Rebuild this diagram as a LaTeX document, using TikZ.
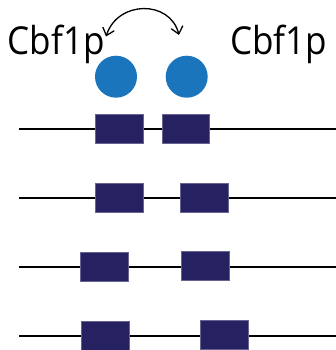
\documentclass[tikz,border=0pt]{standalone}
\usepackage{fontspec}
\setmainfont{Open Sans}
\usetikzlibrary{arrows.meta}
\definecolor{dotblue}{HTML}{1A75BC}
\definecolor{boxnavy}{HTML}{262262}
\begin{document}
\begin{tikzpicture}[x=1pt,y=-1pt,
  site/.style={fill=boxnavy,draw=boxnavy!70!white,line width=0.4pt,minimum width=48pt,minimum height=29pt,inner sep=0pt},
  dna/.style={line width=2pt,black},
  prot/.style={circle,fill=dotblue,minimum size=42pt,inner sep=0pt},
  lbl/.style={font=\fontsize{38.5}{40}\selectfont,inner sep=0pt,anchor=base west,xscale=0.91}]
\useasboundingbox (0,0) rectangle (335,350);
% DNA lines
\foreach \y/\n in {129/1,197.5/2,266.5/3,335.5/4}{
  \coordinate (l\n) at (19,\y);
  \coordinate (r\n) at (336,\y);
  \draw[dna] (l\n) -- (r\n);
}
% boxes
\node[site] (a1) at (119,128.7) {};
\node[site,minimum width=47pt,minimum height=28.5pt] (b1) at (185.5,128.5) {};
\node[site] (a2) at (119,197.3) {};
\node[site] (b2) at (204,197.3) {};
\node[site] (a3) at (104.5,266.3) {};
\node[site] (b3) at (205,266) {};
\node[site] (a4) at (105,335.3) {};
\node[site] (b4) at (224.5,334.7) {};
% proteins
\node[prot] (p1) at (116,76.7) {};
\node[prot] (p2) at (186.7,76.7) {};
% labels
\node[lbl] (t1) at (7.5,55) {Cbf1p};
\node[lbl] (t2) at (230,55) {Cbf1p};
% exchange arrow
\coordinate (e1) at (106,36.5);
\coordinate (e2) at (179,35);
\draw[line width=1.3pt,{Straight Barb[length=7pt,width=12pt]}-{Straight Barb[length=7pt,width=12pt]}]
  (e1) .. controls (118,0) and (170,0) .. (e2);
\end{tikzpicture}
\end{document}
